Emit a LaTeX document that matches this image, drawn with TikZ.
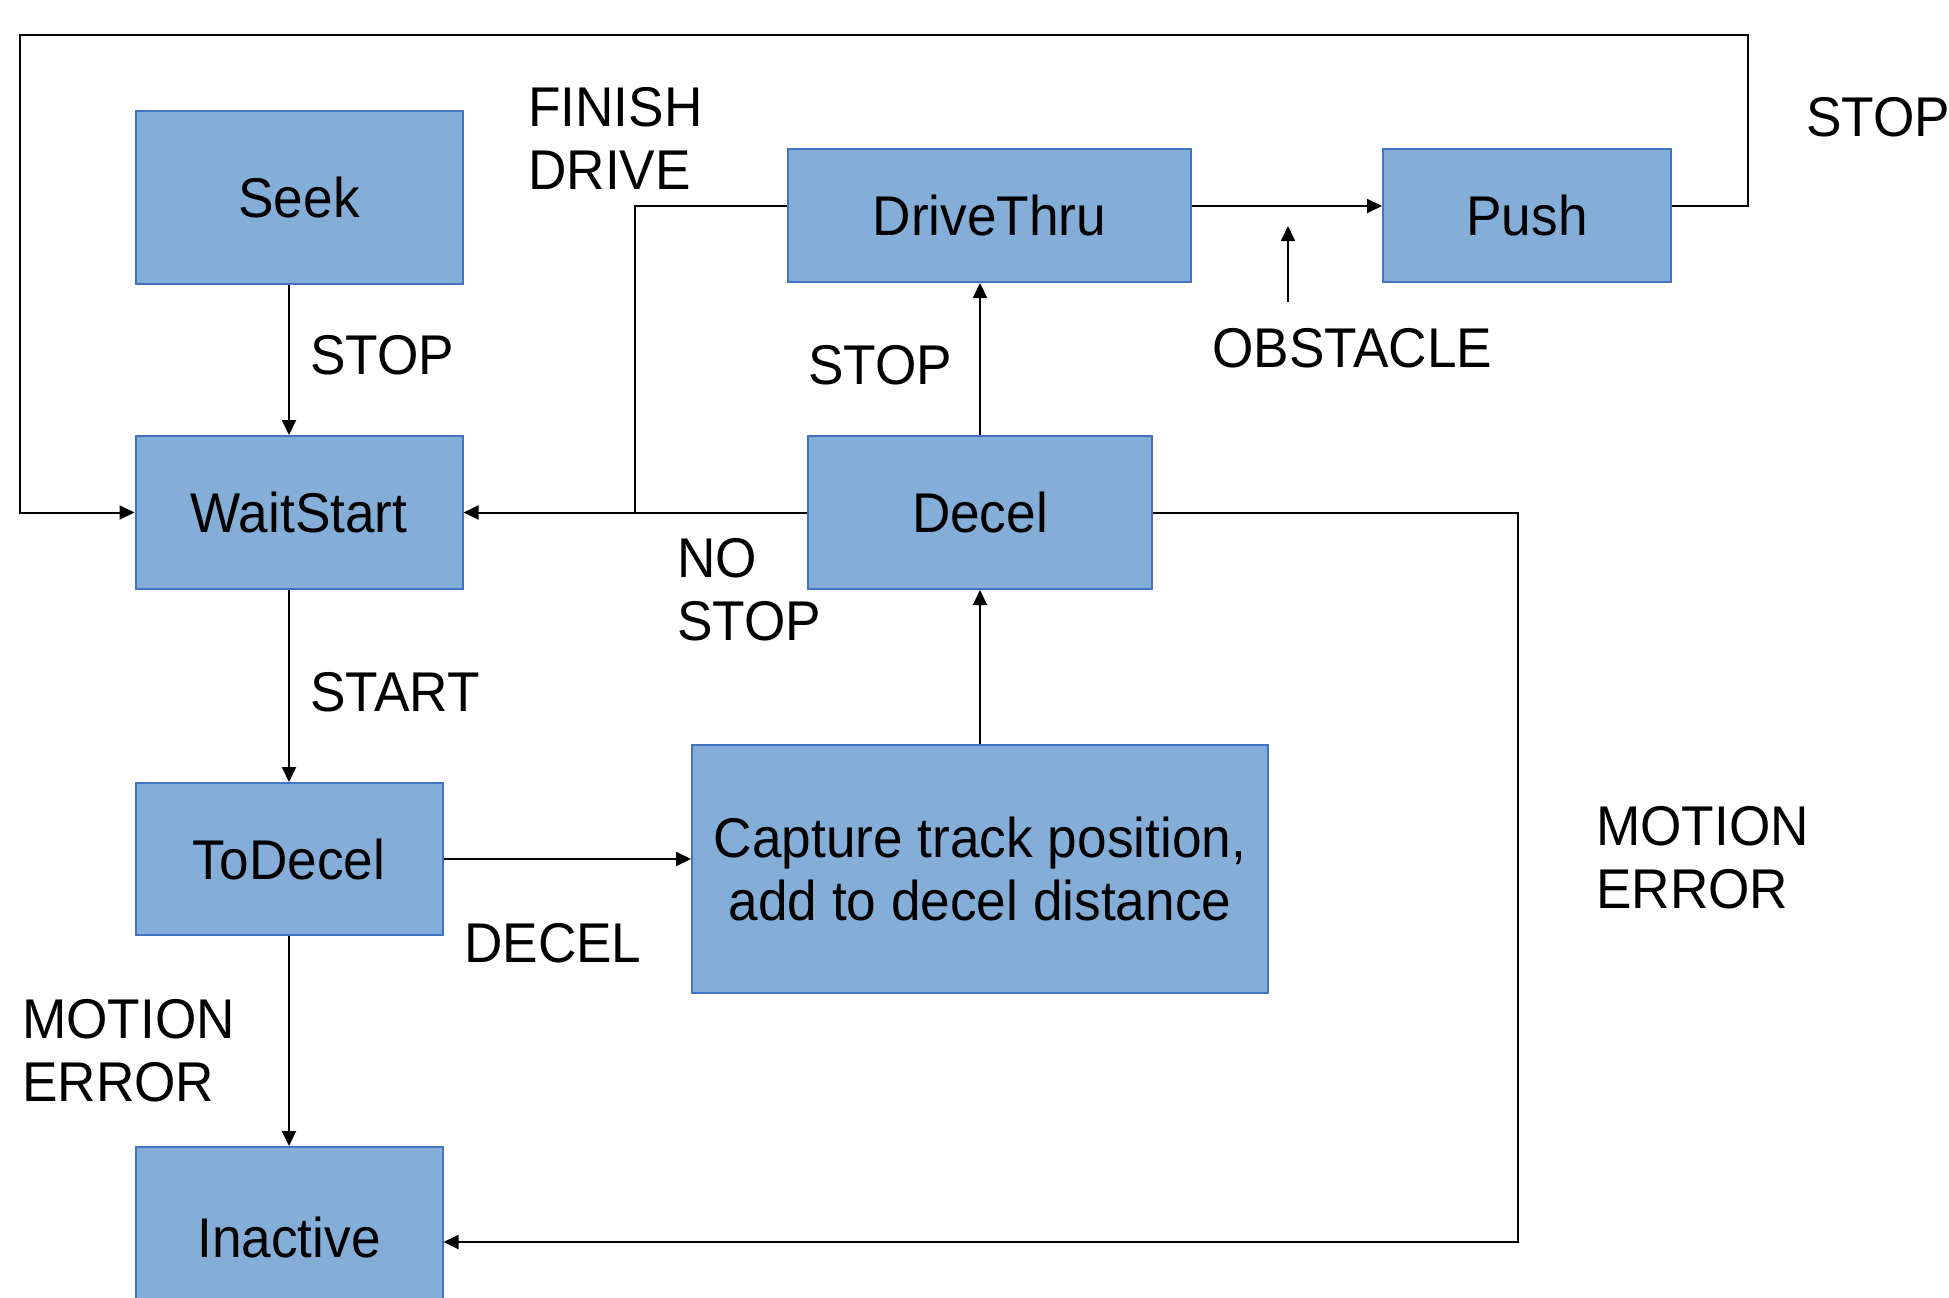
\documentclass[tikz,border=0pt]{standalone}
\usepackage{fontspec}
\setmainfont[FakeStretch=0.95]{Liberation Sans}
\usetikzlibrary{arrows.meta}
\definecolor{boxfill}{RGB}{132,174,216}
\definecolor{boxline}{RGB}{68,114,196}
\begin{document}
\begin{tikzpicture}[x=1pt,y=-1pt,
  every node/.style={font=\fontsize{56}{63}\selectfont},
  state/.style={draw=boxline, fill=boxfill, line width=2pt, inner sep=0pt, align=center},
  conn/.style={line width=2pt, draw=black},
  arr/.style={conn, -{Triangle[length=15pt,width=14pt]}},
  lbl/.style={inner sep=0pt, anchor=north west, align=left}]
\clip (0,0) rectangle (1949,1298);
\fill[white] (0,0) rectangle (1949,1298);

% states
\node[state, minimum width=327pt, minimum height=173pt] (seek) at (299,197) {Seek};
\node[state, minimum width=327pt, minimum height=153pt] (waitstart) at (299,512.5) {WaitStart};
\node[state, minimum width=307pt, minimum height=152pt] (todecel) at (289,859) {ToDecel};
\node[state, minimum width=307pt, minimum height=180pt] (inactive) at (289,1237) {Inactive};
\node[state, minimum width=403pt, minimum height=133pt] (drivethru) at (989.5,215.5) {DriveThru};
\node[state, minimum width=288pt, minimum height=133pt] (push) at (1527,215.5) {Push};
\node[state, minimum width=344pt, minimum height=153pt] (decel) at (980,512.5) {Decel};
\node[state, minimum width=576pt, minimum height=248pt] (capture) at (980,869) {Capture track position,\\add to decel distance};

% helper coordinates
\coordinate (j) at (635,512.5);
\coordinate (lr) at (1748,35);
\coordinate (ll) at (20,35);
\coordinate (mr) at (1518,1242);
\coordinate (ob1) at (1288,302);
\coordinate (ob2) at (1288,226);

% connectors
\draw[arr] (seek.south -| todecel.north) -- (waitstart.north -| todecel.north);
\draw[arr] (waitstart.south -| todecel.north) -- (todecel.north);
\draw[arr] (todecel.south) -- (inactive.north);
\draw[arr] (todecel.east) -- (todecel.east -| capture.west);
\draw[arr] (capture.north) -- (decel.south);
\draw[arr] (decel.north) -- (decel.north |- drivethru.south);
\draw[arr] (decel.west) -- (waitstart.east);
\draw[conn] ([yshift=9.5pt]drivethru.west) -| (j);
\draw[arr] ([yshift=9.5pt]drivethru.east) -- ([yshift=9.5pt]push.west);
\draw[arr] ([yshift=9.5pt]push.east) -| (lr) -- (ll) |- (waitstart.west);
\draw[arr] (ob1) -- (ob2);
\draw[arr] (decel.east) -| (mr) -- (mr -| inactive.east);

% labels
\node[lbl] (lfinish) at (528,87) {FINISH\\DRIVE};
\node[lbl] (lstop1) at (1806,97) {STOP};
\node[lbl] (lstop2) at (310,335.5) {STOP};
\node[lbl] (lstop3) at (808,345) {STOP};
\node[lbl] (lobst) at (1212,328) {OBSTACLE};
\node[lbl] (lnostop) at (677,538) {NO\\STOP};
\node[lbl] (lstart) at (310,672) {START};
\node[lbl] (ldecel) at (464,923) {DECEL};
\node[lbl] (lmerr1) at (22,999) {MOTION\\ERROR};
\node[lbl] (lmerr2) at (1596,806.5) {MOTION\\ERROR};
\end{tikzpicture}
\end{document}
